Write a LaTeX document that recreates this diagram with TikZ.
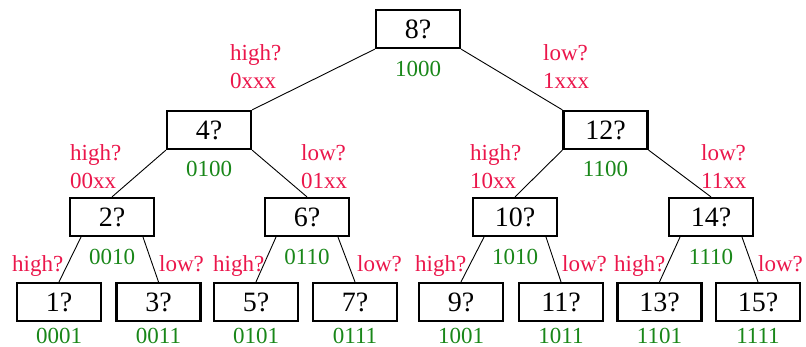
\documentclass[tikz,border=0pt]{standalone}
\usepackage{fontspec}
\setmainfont{Liberation Serif}
\definecolor{askred}{RGB}{235,22,75}
\definecolor{codegreen}{RGB}{25,135,25}

\begin{document}
\begin{tikzpicture}[x=1pt,y=-1pt,
  box/.style={draw, line width=2.2pt, minimum width=84pt, minimum height=38pt,
    inner sep=0pt, font=\fontsize{28}{30}\selectfont},
  ask/.style={text=askred, inner sep=0pt, align=left, anchor=base west,
    font=\fontsize{23}{28}\selectfont},
  code/.style={text=codegreen, inner sep=0pt, anchor=base,
    font=\fontsize{23}{28}\selectfont},
  edge/.style={line width=0.9pt}]

\useasboundingbox (0,0) rectangle (806,347);

% top two levels
\node[box] (n8) at (418,29) {8?};
\node[box] (n4) at (209,130) {4?};
\node[box] (n12) at (605.5,130) {12?};
\node[box] (n2) at (112,217) {2?};
\node[box] (n6) at (307,217) {6?};
\node[box] (n10) at (515,217) {10?};
\node[box] (n14) at (711,217) {14?};

% leaves with their codes
\foreach \k/\x/\c in {1/59/0001, 3/158.5/0011, 5/256/0101, 7/355/0111,
  9/461/1001, 11/561/1011, 13/659.5/1101, 15/758/1111} {
\node[box] (n\k) at (\x,302) {\k?};
\node[code] (c\k) at (\x,343.5) {\c};
}

\draw[edge] (n8.south west) -- (n4.north east);
\draw[edge] (n8.south east) -- (n12.north west);
\draw[edge] (n4.south west) -- (n2.north);
\draw[edge] (n4.south east) -- (n6.north);
\draw[edge] (n12.south west) -- (n10.north);
\draw[edge] (n12.south east) -- (n14.north);

% questions and codes of the upper boxes (base = last line)
\node[ask] (a8h) at (230,89) {high?\\0xxx};
\node[code] (c8) at (418,77) {1000};
\node[ask] (a8l) at (543,89) {low?\\1xxx};
\node[ask] (a4h) at (70,189) {high?\\00xx};
\node[code] (c4) at (209,177) {0100};
\node[ask] (a4l) at (301,189) {low?\\01xx};
\node[ask] (a12h) at (470,189) {high?\\10xx};
\node[code] (c12) at (605.5,177) {1100};
\node[ask] (a12l) at (701,189) {low?\\11xx};

% third level
\foreach \p/\a/\b/\hx/\lx/\c in {2/1/3/12/159/0010, 6/5/7/213/357/0110,
  10/9/11/415/562/1010, 14/13/15/614/758/1110} {
\draw[edge] ([xshift=-31pt]n\p.south) -- (n\a.north);
\draw[edge] ([xshift=31pt]n\p.south) -- (n\b.north);
\node[ask] (h\p) at (\hx,272) {high?};
\node[code] (c\p) at (n\p |- 0,265) {\c};
\node[ask] (l\p) at (\lx,272) {low?};
}

\end{tikzpicture}
\end{document}
